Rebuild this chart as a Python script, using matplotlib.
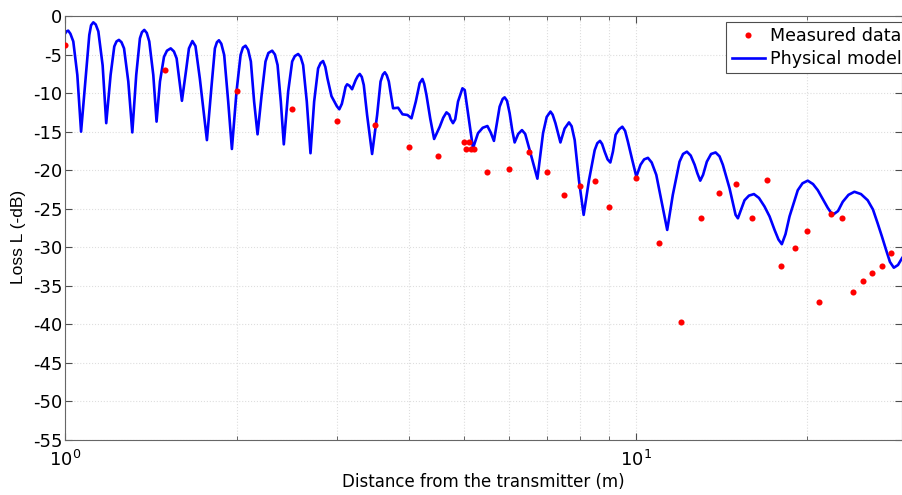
import numpy as np
import matplotlib
matplotlib.use("Agg")
import matplotlib.pyplot as plt
from matplotlib.ticker import LogLocator, MultipleLocator, NullFormatter

plt.rcParams['font.family'] = ['DejaVu Sans']
plt.rcParams['axes.unicode_minus'] = False

# measured points (distance m, loss dB)
meas_d = [1.0, 1.5, 2.0, 2.5, 3.0, 3.5, 4.0, 4.5, 5.0, 5.1, 5.05, 5.15, 5.2,
          5.5, 6.0, 6.5, 7.0, 7.5, 8.0, 8.5, 9.0, 10, 11, 12, 13, 14, 15, 16,
          17, 18, 19, 20, 21, 22, 23, 24, 25, 26, 27, 28]
meas_L = [-3.8, -7.0, -9.7, -12.0, -13.6, -14.1, -17.0, -18.2, -16.3, -16.3,
          -17.3, -17.2, -17.3, -20.2, -19.8, -17.7, -20.2, -23.2, -22.1, -21.4,
          -24.8, -21.0, -29.4, -39.7, -26.2, -23.0, -21.8, -26.2, -21.3, -32.4,
          -30.1, -27.9, -37.1, -25.7, -26.2, -35.8, -34.4, -33.3, -32.4, -30.8]

# physical model
model_d = [1.000, 1.006, 1.013, 1.022, 1.034, 1.051, 1.067, 1.088, 1.103, 1.111,
           1.121, 1.132, 1.144, 1.164, 1.181, 1.202, 1.220, 1.231, 1.243, 1.256,
           1.269, 1.291, 1.312, 1.333, 1.353, 1.364, 1.377, 1.391, 1.405, 1.428,
           1.447, 1.467, 1.491, 1.509, 1.532, 1.552, 1.569, 1.603, 1.629, 1.649,
           1.672, 1.693, 1.723, 1.773, 1.807, 1.831, 1.846, 1.861, 1.879, 1.901,
           1.932, 1.961, 1.998, 2.031, 2.050, 2.072, 2.094, 2.117, 2.145, 2.175,
           2.211, 2.246, 2.272, 2.307, 2.333, 2.358, 2.389, 2.418, 2.461, 2.501,
           2.528, 2.562, 2.588, 2.614, 2.653, 2.693, 2.733, 2.777, 2.805, 2.833,
           2.859, 2.884, 2.931, 2.970, 2.995, 3.025, 3.056, 3.081, 3.102, 3.122,
           3.152, 3.185, 3.232, 3.259, 3.285, 3.312, 3.339, 3.384, 3.453, 3.524,
           3.573, 3.606, 3.635, 3.664, 3.694, 3.758, 3.835, 3.904, 3.983, 4.048,
           4.119, 4.184, 4.231, 4.261, 4.300, 4.366, 4.435, 4.537, 4.601, 4.662,
           4.714, 4.742, 4.786, 4.829, 4.884, 4.972, 5.018, 5.085, 5.188, 5.294,
           5.396, 5.499, 5.572, 5.646, 5.777, 5.849, 5.895, 5.952, 6.015, 6.078,
           6.138, 6.227, 6.322, 6.405, 6.522, 6.728, 6.883, 6.985, 7.092, 7.155,
           7.236, 7.383, 7.509, 7.643, 7.725, 7.821, 7.956, 8.109, 8.285, 8.478,
           8.568, 8.661, 8.735, 8.826, 8.931, 9.030, 9.125, 9.226, 9.356, 9.478,
           9.585, 9.694, 9.860, 10.03, 10.20, 10.35, 10.51, 10.67, 10.87, 11.16,
           11.36, 11.62, 11.94, 12.11, 12.30, 12.49, 12.69, 12.83, 12.98, 13.13,
           13.33, 13.56, 13.81, 14.03, 14.22, 14.61, 14.97, 15.11, 15.52, 15.80,
           16.12, 16.45, 16.82, 17.17, 17.52, 17.80, 18.04, 18.31, 18.61, 19.24,
           19.61, 20.03, 20.46, 20.86, 21.72, 22.00, 22.25, 22.63, 23.07, 23.61,
           24.18, 24.83, 25.51, 26.06, 26.56, 27.02, 27.48, 27.91, 28.35, 28.83,
           29.31]
model_L = [-2.3, -2.0, -1.9, -2.3, -3.3, -7.65, -15.0, -7.65, -2.46, -1.2,
           -0.82, -1.1, -2.0, -6.4, -13.9, -7.65, -3.95, -3.3, -3.1, -3.4,
           -4.2, -8.5, -15.1, -7.65, -2.9, -2.1, -1.8, -2.2, -3.3, -7.65,
           -13.7, -8.5, -5.3, -4.5, -4.2, -4.6, -5.5, -11.0, -7.2, -4.2,
           -3.25, -3.9, -8.1, -16.1, -8.95, -4.2, -3.4, -3.15, -3.6, -5.06,
           -11.1, -17.25, -9.8, -5.06, -4.1, -3.85, -4.4, -5.9, -11.1, -15.35,
           -10.25, -5.9, -4.8, -4.5, -5.0, -6.36, -11.1, -16.65, -9.8, -5.9,
           -5.2, -4.93, -5.3, -6.36, -11.1, -17.8, -11.1, -6.8, -6.1, -5.84,
           -6.6, -8.1, -10.4, -11.2, -11.7, -12.1, -11.4, -10.25, -9.2, -8.86,
           -9.05, -9.5, -8.3, -7.8, -7.52, -7.9, -8.95, -12.84, -17.9, -12.84,
           -8.5, -7.6, -7.3, -7.7, -8.5, -11.97, -11.9, -12.75, -12.84, -13.27,
           -11.1, -8.7, -8.17, -8.8, -10.25, -13.3, -15.95, -14.36, -13.2, -12.5,
           -12.8, -13.4, -13.9, -13.4, -11.1, -9.38, -9.6, -12.6, -17.16, -15.2,
           -14.5, -14.27, -15.1, -16.2, -11.76, -10.75, -10.55, -11.0, -12.6, -14.8,
           -16.4, -15.3, -14.8, -15.3, -17.4, -21.1, -15.2, -13.1, -12.4, -12.8,
           -13.9, -16.4, -14.6, -13.8, -14.3, -16.1, -21.3, -25.8, -21.3, -17.4,
           -16.5, -16.2, -16.6, -17.6, -18.6, -19.0, -17.6, -15.4, -14.7, -14.36,
           -14.9, -16.3, -18.6, -20.84, -19.3, -18.6, -18.4, -19.0, -20.6, -24.9,
           -27.75, -23.2, -18.9, -17.9, -17.6, -18.1, -19.3, -20.4, -21.36, -20.6,
           -18.9, -17.9, -17.7, -18.2, -19.3, -22.35, -25.8, -26.24, -23.9, -23.3,
           -23.1, -23.6, -24.7, -26.0, -27.75, -29.0, -29.6, -28.3, -26.0, -22.6,
           -21.7, -21.36, -21.8, -22.6, -24.9, -25.5, -25.7, -25.3, -24.1, -23.2,
           -22.8, -23.1, -23.9, -25.1, -26.9, -28.6, -30.35, -31.9, -32.65, -32.3,
           -31.4]

fig = plt.figure(figsize=(9.03, 4.95), dpi=100)
ax = fig.add_axes([65 / 903, 55 / 495, 837 / 903, 424 / 495])

ax.plot(meas_d, meas_L, 'o', color='red', markersize=4.4, markeredgewidth=0,
        label='Measured data', zorder=3)
ax.plot(model_d, model_L, '-', color='#0000ff', linewidth=1.9,
        solid_joinstyle='round', label='Physical model', zorder=2)

ax.set_xscale('log')
ax.set_xlim(1, 29.3)
ax.set_ylim(-55, 0)
ax.yaxis.set_major_locator(MultipleLocator(5))
ax.xaxis.set_minor_locator(LogLocator(base=10, subs=np.arange(2, 10)))
ax.xaxis.set_minor_formatter(NullFormatter())

ax.grid(True, which='both', color='#dedede', linestyle=':', linewidth=0.8)
ax.set_axisbelow(True)
ax.tick_params(which='both', direction='in', top=True, right=True,
               labelsize=13, color='0.3')
ax.tick_params(which='major', length=5)
ax.tick_params(which='minor', length=3)
ax.tick_params(axis='x', pad=7)
ax.tick_params(axis='y', pad=2)
for s in ax.spines.values():
    s.set_color('0.4')

ax.set_xlabel('Distance from the transmitter (m)', fontsize=12, labelpad=2)
ax.set_ylabel('Loss L (-dB)', fontsize=12.5, family='Liberation Sans')
ax.yaxis.set_label_coords(-0.047, 0.48)

leg = ax.legend(loc='upper right', bbox_to_anchor=(1.006, 0.986),
                borderaxespad=0, fontsize=12.6, fancybox=False, framealpha=1,
                edgecolor='0.3', handlelength=1.9, borderpad=0.3,
                labelspacing=0.28, handletextpad=0.3)
leg.get_frame().set_linewidth(0.8)

fig.savefig('out.png', dpi=100)
